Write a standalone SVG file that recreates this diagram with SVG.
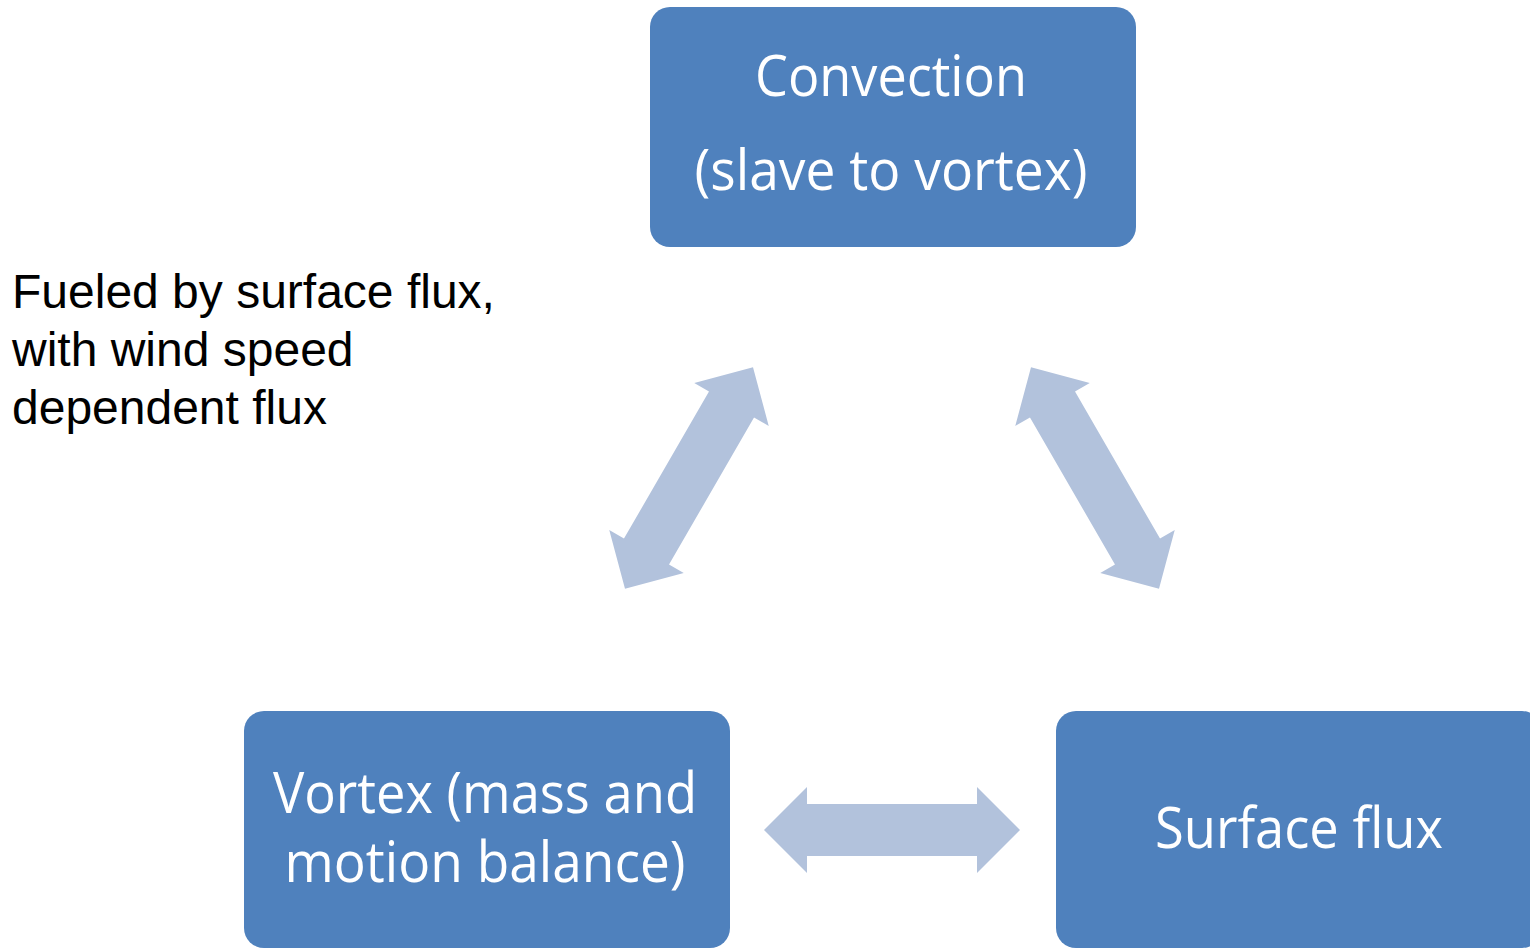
<svg xmlns="http://www.w3.org/2000/svg" width="1530" height="948" viewBox="0 0 1530 948">
  <style>
    .box { fill: #4F81BD; }
    .lbl { fill: #FFFFFF; font-family: "Open Sans", "Noto Sans", "Liberation Sans", sans-serif; font-size: 56px; text-anchor: middle; }
    .note { fill: #000000; font-family: "Liberation Sans", Arial, sans-serif; font-size: 48px; }
    .arr { fill: #B2C2DC; }
  </style>
  <defs>
    <path id="dblarrow" d="M -128 0 L -85 -43 L -85 -26 L 85 -26 L 85 -43 L 128 0 L 85 43 L 85 26 L -85 26 L -85 43 Z"/>
  </defs>
  <rect width="1530" height="948" fill="#FFFFFF"/>

  <g id="connectors">
    <use href="#dblarrow" class="arr" transform="translate(689,478) rotate(-60)"/>
    <use href="#dblarrow" class="arr" transform="translate(1095,478) rotate(60)"/>
    <use href="#dblarrow" class="arr" transform="translate(892,830)"/>
  </g>

  <g id="node-convection">
    <rect class="box" x="650" y="7" width="486" height="240" rx="20" ry="20"/>
    <text class="lbl" x="891" y="96" textLength="272" lengthAdjust="spacingAndGlyphs">Convection</text>
    <text class="lbl" x="891" y="190" textLength="393" lengthAdjust="spacingAndGlyphs">(slave to vortex)</text>
  </g>

  <g id="node-vortex">
    <rect class="box" x="244" y="711" width="486" height="237" rx="20" ry="20"/>
    <text class="lbl" x="485" y="813" textLength="424" lengthAdjust="spacingAndGlyphs">Vortex (mass and</text>
    <text class="lbl" x="485" y="882" textLength="401" lengthAdjust="spacingAndGlyphs">motion balance)</text>
  </g>

  <g id="node-surface-flux">
    <rect class="box" x="1056" y="711" width="486" height="237" rx="20" ry="20"/>
    <text class="lbl" x="1299" y="848" textLength="288" lengthAdjust="spacingAndGlyphs">Surface flux</text>
  </g>

  <g id="note">
    <text class="note" x="12" y="308">Fueled by surface flux,</text>
    <text class="note" x="12" y="366">with wind speed</text>
    <text class="note" x="12" y="424">dependent flux</text>
  </g>
</svg>
